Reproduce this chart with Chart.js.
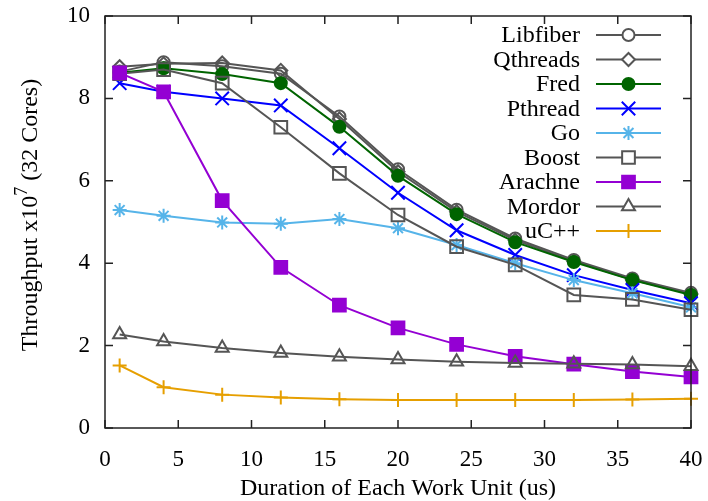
<!DOCTYPE html>
<html>
<head>
<meta charset="utf-8">
<script src="https://cdn.jsdelivr.net/npm/chart.js@4/dist/chart.umd.min.js"></script>
<style>
  html, body { margin: 0; padding: 0; background: #fff; }
  #wrap { width: 708px; height: 501px; }
</style>
</head>
<body>
<div id="wrap"><canvas id="chart" width="708" height="501"></canvas></div>
<script>
'use strict';

/* ── Data ─────────────────────────────────────────────────── */
const durations = [1, 4, 8, 12, 16, 20, 24, 28, 32, 36, 40];

const libfiber = [8.65, 8.88, 8.78, 8.60, 7.56, 6.28, 5.30, 4.60, 4.08, 3.63, 3.28];
const qthreads = [8.77, 8.84, 8.86, 8.68, 7.50, 6.22, 5.25, 4.56, 4.05, 3.60, 3.25];
const fred     = [8.62, 8.73, 8.59, 8.37, 7.31, 6.12, 5.19, 4.51, 4.03, 3.59, 3.23];
const pthread  = [8.37, 8.16, 8.00, 7.83, 6.79, 5.71, 4.80, 4.20, 3.71, 3.35, 3.03];
const go       = [5.29, 5.15, 4.99, 4.96, 5.07, 4.85, 4.44, 4.00, 3.59, 3.27, 2.93];
const boost    = [8.60, 8.70, 8.37, 7.30, 6.18, 5.17, 4.40, 3.96, 3.23, 3.12, 2.87];
const arachne  = [8.62, 8.16, 5.52, 3.90, 2.98, 2.43, 2.03, 1.74, 1.55, 1.37, 1.24];
const mordor   = [2.27, 2.10, 1.94, 1.82, 1.73, 1.66, 1.61, 1.58, 1.56, 1.54, 1.50];
const ucpp     = [1.52, 0.99, 0.81, 0.74, 0.70, 0.68, 0.68, 0.68, 0.68, 0.69, 0.71];

const xTicksStep = 5;
const yTicksStep = 2;

const FONT = "'Liberation Serif', 'Times New Roman', serif";
const GRAY = '#555555';

/* ── Series definitions ───────────────────────────────────── */
function series(label, values, color, style, radius, filled) {
  return {
    label,
    data: durations.map((x, i) => ({ x, y: values[i] })),
    borderColor: color,
    backgroundColor: color,
    borderWidth: 2,
    pointStyle: style,
    pointRadius: radius,
    pointHoverRadius: radius,
    pointBorderWidth: 2,
    pointBorderColor: color,
    pointBackgroundColor: filled ? color : 'rgba(0,0,0,0)',
    filledMarker: filled,
    tension: 0,
    clip: false,
  };
}

const datasets = [
  series('Libfiber', libfiber, GRAY, 'circle', 6, false),
  series('Qthreads', qthreads, GRAY, 'rectRot', 6.5, false),
  series('Fred', fred, '#006400', 'circle', 6, true),
  series('Pthread', pthread, '#0000ff', 'crossRot', 9.5, false),
  series('Go', go, '#56b4e9', 'star', 7, false),
  series('Boost', boost, GRAY, 'rect', 9, false),
  series('Arachne', arachne, '#9400d3', 'rect', 9, true),
  series('Mordor', mordor, GRAY, 'triangle', 7.5, false),
  series('uC++', ucpp, '#e69f00', 'cross', 7, false),
];
// later series drawn on top, like gnuplot
datasets.forEach((d, i) => { d.order = datasets.length - i; });

/* ── Plugins ──────────────────────────────────────────────── */
// frame with inward ticks on all four sides
const framePlugin = {
  id: 'frame',
  afterDatasetsDraw(chart) {
    const { ctx, chartArea: a, scales: { x, y } } = chart;
    ctx.save();
    ctx.strokeStyle = '#222';
    ctx.lineWidth = 1.5;
    ctx.strokeRect(a.left, a.top, a.right - a.left, a.bottom - a.top);
    const tl = 8;
    ctx.beginPath();
    x.ticks.forEach(t => {
      const px = x.getPixelForValue(t.value);
      ctx.moveTo(px, a.bottom); ctx.lineTo(px, a.bottom - tl);
      ctx.moveTo(px, a.top); ctx.lineTo(px, a.top + tl);
    });
    y.ticks.forEach(t => {
      const py = y.getPixelForValue(t.value);
      ctx.moveTo(a.left, py); ctx.lineTo(a.left + tl, py);
      ctx.moveTo(a.right, py); ctx.lineTo(a.right - tl, py);
    });
    ctx.stroke();
    ctx.restore();
  }
};

// rotated y title with a real superscript
const yTitlePlugin = {
  id: 'yTitle',
  afterDraw(chart) {
    const ctx = chart.ctx;
    const parts = [
      { t: 'Throughput x10', size: 24, dy: 0 },
      { t: '7', size: 18, dy: -10 },
      { t: ' (32 Cores)', size: 24, dy: 0 },
    ];
    ctx.save();
    ctx.translate(30, 215);
    ctx.rotate(-Math.PI / 2);
    ctx.fillStyle = '#000';
    ctx.textBaseline = 'alphabetic';
    let w = 0;
    parts.forEach(p => { ctx.font = p.size + 'px ' + FONT; p.w = ctx.measureText(p.t).width; w += p.w; });
    let cx = -w / 2;
    parts.forEach(p => {
      ctx.font = p.size + 'px ' + FONT;
      ctx.textAlign = 'left';
      ctx.fillText(p.t, cx, 7 + p.dy);
      cx += p.w;
    });
    ctx.restore();
  }
};

// gnuplot-style key: right-aligned text, sample line with marker
const keyPlugin = {
  id: 'key',
  afterDraw(chart) {
    const ctx = chart.ctx;
    const textRight = 580, x0 = 596, x1 = 661, top = 35, step = 24.5;
    ctx.save();
    chart.data.datasets.forEach((d, i) => {
      const yy = top + i * step;
      ctx.font = '24px ' + FONT;
      ctx.fillStyle = '#000';
      ctx.textAlign = 'right';
      ctx.textBaseline = 'middle';
      ctx.fillText(d.label, textRight, yy + 1);
      ctx.strokeStyle = d.borderColor;
      ctx.lineWidth = d.borderWidth;
      ctx.beginPath();
      ctx.moveTo(x0, yy); ctx.lineTo(x1, yy);
      ctx.stroke();
      ctx.fillStyle = d.filledMarker ? d.pointBackgroundColor : '#fff';
      ctx.strokeStyle = d.pointBorderColor;
      ctx.lineWidth = d.pointBorderWidth;
      Chart.helpers.drawPoint(ctx, {
        pointStyle: d.pointStyle, radius: d.pointRadius, borderWidth: d.pointBorderWidth, rotation: 0
      }, (x0 + x1) / 2, yy);
    });
    ctx.restore();
  }
};

/* ── Chart ────────────────────────────────────────────────── */
new Chart(document.getElementById('chart'), {
  type: 'line',
  data: { datasets },
  options: {
    responsive: false,
    animation: false,
    events: [],
    layout: { padding: { top: 16, right: 17, left: 0, bottom: 0 } },
    plugins: { legend: { display: false }, tooltip: { enabled: false } },
    scales: {
      x: {
        type: 'linear', min: 0, max: 40,
        ticks: { stepSize: xTicksStep, color: '#000', padding: 18, maxRotation: 0, font: { family: FONT, size: 23 } },
        grid: { display: false, drawTicks: false },
        border: { display: false },
        title: {
          display: true, text: 'Duration of Each Work Unit (us)', color: '#000',
          font: { family: FONT, size: 24, lineHeight: 1 }, padding: 0
        },
        afterFit: s => { s.height = 73; s.paddingLeft = 0; s.paddingRight = 0; }
      },
      y: {
        type: 'linear', min: 0, max: 10,
        ticks: { stepSize: yTicksStep, color: '#000', padding: 15, font: { family: FONT, size: 23 } },
        grid: { display: false, drawTicks: false },
        border: { display: false },
        afterFit: s => { s.width = 105; s.paddingTop = 0; s.paddingBottom = 0; }
      }
    }
  },
  plugins: [framePlugin, yTitlePlugin, keyPlugin]
});
</script>
</body>
</html>
